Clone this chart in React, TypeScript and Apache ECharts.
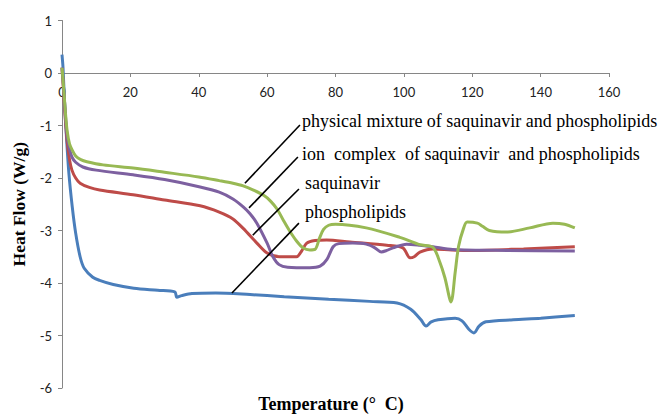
import React, { useEffect, useRef } from "react";
import * as echarts from "echarts";

const xTicks = { min: 0, max: 160, interval: 20 };
const yTicks = { min: -6, max: 1, interval: 1 };

const phospholipids: [number, number][] = [
  [0, 0.35], [0.3, 0.1], [0.7, -0.5], [1.2, -1.1], [2, -1.9], [3, -2.55], [4, -3.05], [5.3, -3.5],
  [6.5, -3.72], [9, -3.89], [11, -3.95], [15, -4.03], [21, -4.1], [28, -4.14], [33, -4.17],
  [33.6, -4.27], [35, -4.24], [38, -4.2], [45, -4.19], [55, -4.22], [65, -4.26], [78, -4.31],
  [90, -4.35], [98, -4.38], [102, -4.5], [105, -4.7], [106.5, -4.82], [108, -4.74], [110, -4.7],
  [115, -4.67], [117, -4.72], [119, -4.88], [120.5, -4.95], [122, -4.82], [124, -4.74],
  [132, -4.7], [140, -4.67], [150, -4.62],
];

const saquinavir: [number, number][] = [
  [0, 0.1], [0.5, -0.4], [1, -0.9], [1.5, -1.3], [2.2, -1.65], [2.9, -1.85], [4, -2.0], [5.3, -2.1],
  [8, -2.18], [11, -2.23], [20.8, -2.32], [30, -2.42], [40.4, -2.53], [46, -2.65], [50, -2.78],
  [53, -2.96], [57, -3.24], [60, -3.43], [63.7, -3.5], [68.6, -3.5], [70, -3.4], [71.6, -3.24],
  [74, -3.19], [77.4, -3.18], [84.2, -3.22], [95, -3.28], [99.7, -3.33], [101.8, -3.52],
  [103, -3.5], [104.7, -3.41], [108.5, -3.35], [114, -3.37], [120, -3.38], [135, -3.35], [150, -3.31],
];

const ionComplex: [number, number][] = [
  [0, 0.1], [0.5, -0.3], [1, -0.8], [1.5, -1.2], [2.2, -1.45], [2.9, -1.6], [4, -1.7], [6.1, -1.79],
  [10, -1.85], [20.8, -1.94], [30, -2.03], [40.4, -2.17], [46, -2.27], [50, -2.4], [53, -2.55],
  [55, -2.68], [57, -2.86], [60, -3.24], [61.7, -3.5], [63.5, -3.65], [66, -3.7], [72.5, -3.71],
  [75.5, -3.68], [77.5, -3.55], [79.3, -3.31], [81, -3.25], [85, -3.24], [89, -3.26], [91.5, -3.33],
  [93.4, -3.41], [95, -3.38], [96.8, -3.33], [100.8, -3.26], [104.7, -3.28], [108.5, -3.31],
  [114.3, -3.36], [130, -3.38], [150, -3.39],
];

const physicalMixture: [number, number][] = [
  [0, 0.1], [0.5, -0.3], [1, -0.75], [1.5, -1.1], [2.2, -1.35], [3, -1.47], [4, -1.58], [5.5, -1.65],
  [7.3, -1.69], [12, -1.75], [20.8, -1.81], [30, -1.89], [40, -1.98], [46, -2.05], [50, -2.1],
  [53, -2.15], [56, -2.23], [59, -2.33], [61, -2.44], [63, -2.6], [64.7, -2.8], [66.5, -3.0],
  [68.6, -3.2], [70.5, -3.33], [72.5, -3.37], [74, -3.36], [75.3, -3.15], [76.5, -2.98], [78, -2.9],
  [80, -2.88], [89, -2.95], [98.8, -3.13], [104.7, -3.27], [108.5, -3.32], [110.5, -3.6], [112, -3.9],
  [113.8, -4.36], [115, -3.8], [116, -3.3], [117.5, -2.95], [118.5, -2.84], [121.5, -2.86],
  [123, -2.92], [125, -3.0], [130, -3.03], [136.8, -2.95], [143.6, -2.86], [147, -2.88], [150, -2.95],
];

// leader lines: [from (text end), to (curve)] in data coordinates
const leaders: [[number, number], [number, number]][] = [
  [[69.6, -0.99], [53.5, -2.1]],
  [[69.0, -1.6], [54.7, -2.57]],
  [[69.3, -2.21], [55.8, -3.09]],
  [[69.3, -2.86], [49.7, -4.19]],
];

const labels = [
  "physical mixture of saquinavir and phospholipids",
  "ion  complex  of saquinavir  and phospholipids",
  "saquinavir",
  "phospholipids",
];

export default function App() {
  const ref = useRef<HTMLDivElement>(null);
  useEffect(() => {
    if (!ref.current) return;
    const chart = echarts.init(ref.current, undefined, { renderer: "svg" });
    const serif = "Liberation Serif";
    const sans = "Lato";
    const axisColor = "#868686";
    const lineSeries = (name: string, data: [number, number][], color: string) => ({
      name,
      type: "line",
      data,
      smooth: 0.3,
      showSymbol: false,
      symbol: "none",
      lineStyle: { color, width: 3 },
      z: 3,
    });
    const labelPos = [
      [302, 120],
      [302, 153],
      [305, 182],
      [305, 211],
    ];
    const plotLeft = 62;
    const plotRight = 51;
    const plotTop = 20.5;
    const plotBottom = 29;
    const plotH = 417 - plotTop - plotBottom;
    // the x axis sits at y = 0: a second grid whose bottom edge is that level
    const zeroGridH = (plotH * yTicks.max) / (yTicks.max - yTicks.min);
    chart.setOption({
      animation: false,
      grid: [
        { left: plotLeft, right: plotRight, top: plotTop, bottom: plotBottom },
        { left: plotLeft, right: plotRight, top: plotTop, height: zeroGridH },
      ],
      xAxis: [
        {
          gridIndex: 0,
          type: "value",
          min: xTicks.min,
          max: xTicks.max,
          interval: xTicks.interval,
          show: false,
        },
        {
          gridIndex: 1,
          type: "value",
          position: "bottom",
          min: xTicks.min,
          max: xTicks.max,
          interval: xTicks.interval,
          axisLine: { show: true, onZero: false, lineStyle: { color: axisColor, width: 1 } },
          axisTick: { show: true, length: 4, lineStyle: { color: axisColor } },
          axisLabel: { margin: 12, fontSize: 13, color: "#222", fontFamily: sans },
          splitLine: { show: false },
        },
      ],
      yAxis: [
        {
          gridIndex: 0,
          type: "value",
          min: yTicks.min,
          max: yTicks.max,
          interval: yTicks.interval,
          axisLine: { show: true, onZero: false, lineStyle: { color: axisColor, width: 1 } },
          axisTick: { show: true, length: 4, lineStyle: { color: axisColor } },
          axisLabel: { margin: 10, fontSize: 13, color: "#222", fontFamily: sans },
          splitLine: { show: false },
          name: "Heat Flow (W/g)",
          nameLocation: "middle",
          nameGap: 34,
          nameTextStyle: { fontFamily: serif, fontWeight: "bold", fontSize: 17.5, color: "#000" },
        },
        { gridIndex: 1, type: "value", min: 0, max: 1, show: false },
      ],
      series: [
        lineSeries("phospholipids", phospholipids, "#4A7EBB"),
        lineSeries("saquinavir", saquinavir, "#BE4B48"),
        lineSeries("ion complex of saquinavir and phospholipids", ionComplex, "#7D60A0"),
        lineSeries("physical mixture of saquinavir and phospholipids", physicalMixture, "#98B954"),
        {
          name: "leaders",
          type: "line",
          data: [],
          markLine: {
            silent: true,
            symbol: ["none", "none"],
            label: { show: false },
            lineStyle: { color: "#000", width: 1.6, type: "solid" },
            data: leaders.map(([a, b]) => [{ coord: a }, { coord: b }]),
          },
          z: 4,
        },
      ],
      graphic: [
        ...labels.map((t, i) => ({
          type: "text",
          x: labelPos[i][0],
          y: labelPos[i][1],
          scaleY: 1.1,
          style: {
            text: t,
            fontFamily: serif,
            fontSize: 18,
            fill: "#000",
            verticalAlign: "middle",
          },
          z: 10,
        })),
        {
          type: "text",
          x: 331,
          y: 404,
          style: {
            text: "Temperature (°  C)",
            fontFamily: serif,
            fontSize: 18,
            fontWeight: "bold",
            fill: "#000",
            align: "center",
            verticalAlign: "middle",
          },
        },
      ],
    });
    return () => chart.dispose();
  }, []);
  return (
    <div
      ref={ref}
      style={{ position: "fixed", left: 0, top: 0, width: 660, height: 417, background: "#fff" }}
    />
  );
}
